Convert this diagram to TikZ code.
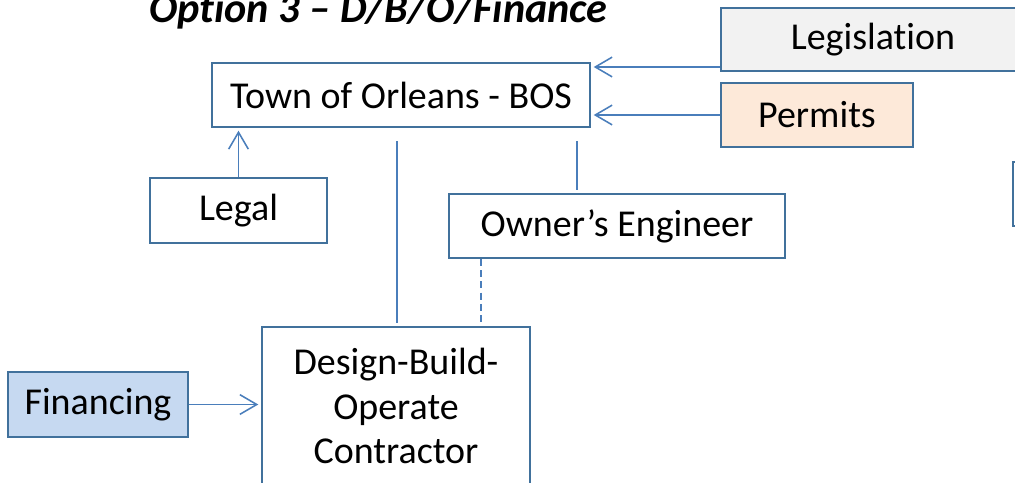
\documentclass[tikz,border=0pt]{standalone}
\usepackage{fontspec}
\setmainfont{Carlito}[Ligatures={NoCommon,NoRare,NoContextual}]
\usepackage{tikz}
\usetikzlibrary{arrows.meta}

\definecolor{boxline}{RGB}{65,113,156}
\definecolor{linkline}{RGB}{74,126,187}
\definecolor{legisfill}{RGB}{242,242,242}
\definecolor{permitfill}{RGB}{253,233,217}
\definecolor{finfill}{RGB}{198,217,241}

\begin{document}
\begin{tikzpicture}[x=0.025cm, y=-0.025cm, >={Straight Barb[length=12pt,width=14pt]}, ->, shorten >=2pt, line width=1.1pt, draw=linkline]

    \tikzstyle{every node}=[font=\fontsize{27}{31.5}\selectfont, text=black]
    \tikzstyle{block}=[rectangle, draw=boxline, line width=1.3pt, fill=white, inner sep=0pt, align=center]

    \useasboundingbox (0,0) rectangle (1015,482);
    \clip (0,0) rectangle (1015,482);

    \node[anchor=base, font=\fontsize{30}{36}\selectfont\bfseries\itshape] (title) at (378.5,22) {Option 3 – D/B/O/Finance};

    \node[block, minimum width=378*0.025cm, minimum height=64*0.025cm] (bos) at (401,95) {Town of Orleans - BOS};
    \node[block, fill=legisfill, minimum width=304*0.025cm, minimum height=63*0.025cm] (legis) at (873,39.5) {Legislation};
    \node[block, fill=permitfill, minimum width=192*0.025cm, minimum height=64*0.025cm] (permits) at (817,115) {Permits};
    \node[block, minimum width=200*0.025cm, minimum height=64*0.025cm] (other) at (1113,194) {};
    \node[block, minimum width=177*0.025cm, minimum height=65*0.025cm] (legal) at (238.5,210.5) {Legal};
    \node[block, minimum width=336*0.025cm, minimum height=64*0.025cm] (oe) at (617,226) {Owner’s Engineer};
    \node[block, minimum width=268*0.025cm, minimum height=158*0.025cm] (dbo) at (396,406) {Design-Build-\\Operate\\Contractor};
    \node[block, fill=finfill, minimum width=180*0.025cm, minimum height=65*0.025cm] (fin) at (98,404.5) {Financing};

    \coordinate (legisrow) at (0,67);
    \coordinate (toplink) at (397,141);
    \coordinate (oelink) at (577,141);
    \coordinate (dashlink) at (481,0);

    \path (legis.west |- legisrow) edge (bos.east |- legisrow)
          (permits.west) edge (permits.west -| bos.east)
          (legal.north) edge (legal.north |- bos.south)
          (fin.east) edge (fin.east -| dbo.west);

    \draw[-] (toplink) -- (toplink |- dbo.north);
    \draw[-] (oelink) -- (oelink |- oe.north);
    \draw[-, dashed, dash pattern=on 5pt off 3pt] (oe.south -| dashlink) -- (dbo.north -| dashlink);

\end{tikzpicture}
\end{document}
